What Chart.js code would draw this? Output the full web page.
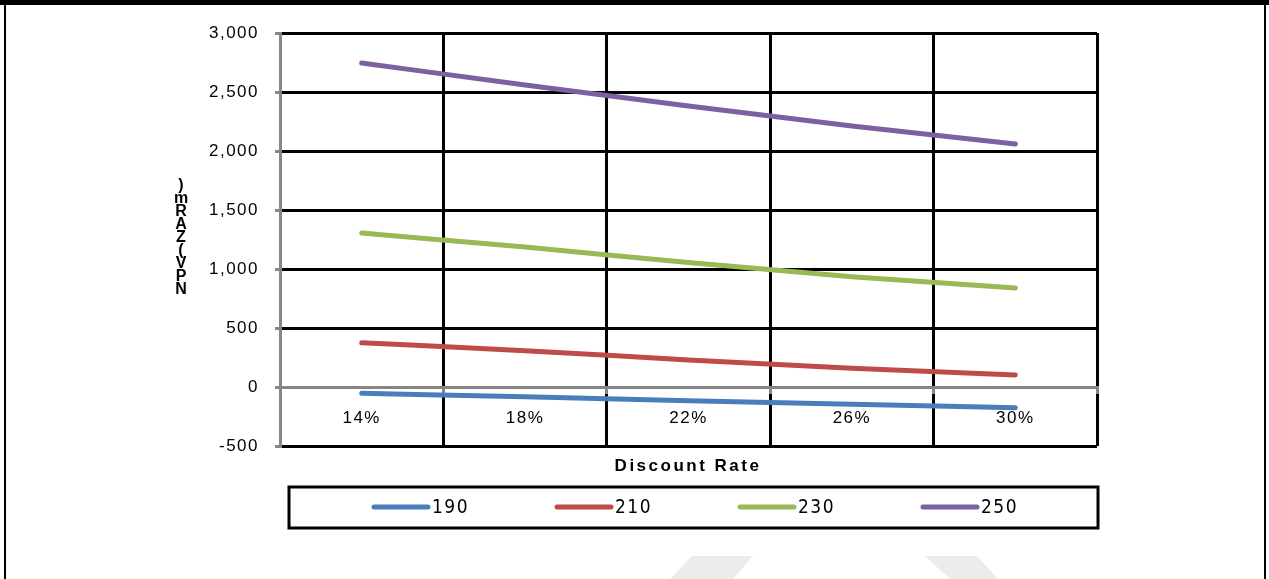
<!DOCTYPE html>
<html>
<head>
<meta charset="utf-8">
<script src="https://cdn.jsdelivr.net/npm/chart.js@4.4.1/dist/chart.umd.min.js"></script>
<style>
  html, body { margin: 0; padding: 0; background: #fff; }
  canvas { display: block; }
</style>
</head>
<body>
<canvas id="npvChart" width="1269" height="579"></canvas>
<script>
// discount rates on the x axis
const rates = ['14%', '18%', '22%', '26%', '30%'];
const seriesNames = ['190', '210', '230', '250'];
// NPV (ZAR m)
const npv190 = [-53, -83, -117, -147, -175];
const npv210 = [375, 308, 229, 158, 102];
const npv230 = [1305, 1186, 1055, 935, 839];
const npv250 = [2746, 2559, 2381, 2212, 2059];
const yMin = -500, yMax = 3000, yStep = 500;

const colors = ['#4A7EBB', '#BE4B48', '#98B954', '#7D60A0'];
const axisGray = '#868686';
const font = '"Liberation Sans", Arial, sans-serif';

const extras = {
  id: 'extras',
  beforeUpdate(chart) { chart.ctx.letterSpacing = '1.5px'; },
  beforeDraw(chart) { chart.ctx.letterSpacing = '1.5px'; },
  afterDraw(chart) {
    const ctx = chart.ctx;
    ctx.save();

    // outer frame
    ctx.fillStyle = '#000';
    ctx.fillRect(0, 0, 1269, 5);
    ctx.fillRect(4, 0, 2, 579);
    ctx.fillRect(1264, 0, 2, 579);

    // x title
    ctx.letterSpacing = '2.5px';
    ctx.font = 'bold 17px ' + font;
    ctx.fillStyle = '#000';
    ctx.textAlign = 'center';
    ctx.textBaseline = 'middle';
    ctx.fillText('Discount Rate', 688, 466);

    // y title, characters stacked from bottom up
    ctx.letterSpacing = '0px';
    ctx.font = 'bold 16px ' + font;
    const chars = ['N', 'P', 'V', '(', 'Z', 'A', 'R', 'm', ')'];
    chars.forEach((c, i) => {
      ctx.fillText(c, 181, 290 - i * 13);
    });

    // legend box
    ctx.lineWidth = 3;
    ctx.strokeStyle = '#000';
    ctx.strokeRect(289, 487, 809, 41);
    ctx.font = '19px "DejaVu Sans Condensed", "Liberation Sans Narrow", ' + font;
    ctx.letterSpacing = '1.5px';
    ctx.textAlign = 'left';
    const legendX = [374, 557, 740, 923];
    chart.data.datasets.forEach((ds, i) => {
      ctx.strokeStyle = ds.borderColor;
      ctx.lineWidth = 5;
      ctx.lineCap = 'round';
      ctx.beginPath();
      ctx.moveTo(legendX[i], 507);
      ctx.lineTo(legendX[i] + 54, 507);
      ctx.stroke();
      ctx.fillStyle = '#000';
      ctx.fillText(ds.label, legendX[i] + 58, 508);
    });

    // faint watermark shapes at the bottom edge
    ctx.fillStyle = '#ececec';
    ctx.beginPath();
    ctx.moveTo(692, 556); ctx.lineTo(753, 556); ctx.lineTo(733, 579); ctx.lineTo(670, 579);
    ctx.closePath(); ctx.fill();
    ctx.beginPath();
    ctx.moveTo(925, 556); ctx.lineTo(977, 556); ctx.lineTo(998, 579); ctx.lineTo(950, 579);
    ctx.closePath(); ctx.fill();

    ctx.restore();
  }
};

const series = [npv190, npv210, npv230, npv250];

new Chart(document.getElementById('npvChart').getContext('2d'), {
  type: 'line',
  data: {
    labels: rates,
    datasets: series.map((d, i) => ({
      label: seriesNames[i],
      data: d,
      borderColor: colors[i],
      backgroundColor: colors[i],
      borderWidth: 5,
      borderCapStyle: 'round',
      pointRadius: 0,
      tension: 0.4,
      cubicInterpolationMode: 'monotone'
    }))
  },
  options: {
    responsive: false,
    devicePixelRatio: 1,
    animation: false,
    layout: { padding: { left: 0, top: 33, right: 172, bottom: 133 } },
    plugins: {
      legend: { display: false },
      tooltip: { enabled: false }
    },
    scales: {
      x: {
        type: 'category',
        position: { y: 0 },
        offset: true,
        grid: {
          offset: true,
          lineWidth: 3,
          color: ctx => ctx.index === 0 ? 'rgba(0,0,0,0)' : '#000',
          tickColor: axisGray,
          tickLength: 5
        },
        border: { color: axisGray, width: 3 },
        ticks: {
          color: '#000',
          font: { family: font, size: 17 },
          padding: 16,
          maxRotation: 0,
          autoSkip: false
        }
      },
      y: {
        min: yMin,
        max: yMax,
        afterFit: scale => { scale.width = 280; },
        grid: {
          lineWidth: 3,
          color: ctx => (ctx.tick && ctx.tick.value === 0) ? axisGray : '#000',
          tickColor: axisGray,
          tickLength: 5
        },
        border: { color: axisGray, width: 3 },
        ticks: {
          stepSize: yStep,
          color: '#000',
          font: { family: font, size: 17 },
          padding: 16,
          callback: v => v.toLocaleString('en-US')
        }
      }
    }
  },
  plugins: [extras]
});
</script>
</body>
</html>
